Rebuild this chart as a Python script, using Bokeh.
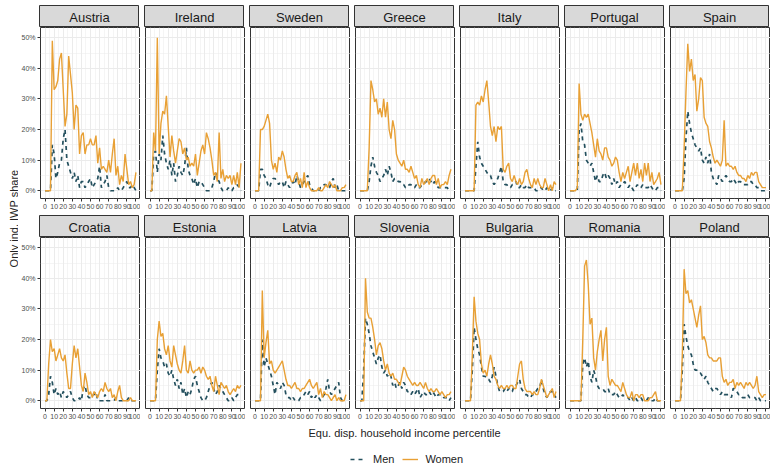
import math
from bokeh.plotting import figure
from bokeh.layouts import row, column
from bokeh.models import (Range1d, FixedTicker, PrintfTickFormatter, Legend, LegendItem,
                          ColumnDataSource)
from bokeh.core.properties import value
from bokeh.embed import file_html
from bokeh.resources import INLINE

# ---------------- data (share in %, percentiles 0..100 step 2) ----------------
percentiles = list(range(0, 101, 2))
countries = ["Austria", "Ireland", "Sweden", "Greece", "Italy", "Portugal", "Spain",
             "Croatia", "Estonia", "Latvia", "Slovenia", "Bulgaria", "Romania", "Poland"]
y_ticks = [0, 10, 20, 30, 40, 50]
x_ticks = [0, 10, 20, 30, 40, 50, 60, 70, 80, 90, 100]
series_names = ["Men", "Women"]

austria_women = [0, 0, 0, 0, 49, 33, 34, 36, 43, 45, 33, 21, 25, 44, 38, 32, 20, 28, 27, 12,
                 18, 19, 12, 15, 15, 17, 15, 15, 18, 9, 14, 7, 8, 7, 6, 10, 6, 12, 17, 5,
                 8, 2, 5, 3, 12, 7, 2, 3, 1, 2, 6]
austria_men = [0, 0, 0, 0, 15, 12, 4, 6, 9, 10, 17, 20, 10, 8, 6, 4, 6, 3, 5, 1,
               3, 3, 1, 2, 3, 4, 1, 2, 3, 4, 8, 1, 2, 3, 5, 1, 0, 0, 0, 0,
               1, 0, 0, 1, 2, 3, 1, 1, 2, 1, 0]
ireland_women = [0, 0, 19, 13, 50, 12, 22, 26, 25, 31, 21, 11, 18, 13, 9, 13, 17, 16, 12, 14,
                 10, 11, 8, 9, 8, 12, 5, 9, 13, 15, 12, 19, 17, 14, 10, 5, 6, 3, 19, 4,
                 7, 3, 5, 4, 5, 2, 5, 2, 6, 1, 9]
ireland_men = [0, 0, 12, 13, 6, 12, 10, 18, 12, 9, 7, 10, 5, 9, 3, 5, 8, 6, 5, 8,
               14, 7, 5, 4, 2, 4, 1, 3, 3, 2, 1, 0, 0, 0, 1, 3, 6, 4, 3, 1,
               0, 0, 0, 1, 0, 0, 1, 1, 2, 1, 0]
sweden_women = [0, 0, 0, 20, 20, 21, 23, 25, 22, 10, 7, 9, 6, 11, 10, 13, 11, 7, 4, 5,
                3, 3, 5, 6, 2, 4, 1, 6, 1, 3, 1, 0, 0, 0, 0, 1, 0, 0, 1, 2,
                1, 3, 2, 1, 2, 0, 0, 0, 1, 1, 2]
sweden_men = [0, 0, 0, 7, 7, 5, 4, 2, 1, 3, 4, 4, 3, 2, 3, 3, 1, 3, 2, 1,
              2, 3, 2, 5, 3, 1, 2, 3, 4, 5, 2, 1, 0, 0, 0, 0, 1, 1, 2, 2,
              1, 1, 3, 4, 1, 2, 0, 0, 0, 0, 0]
greece_women = [0, 0, 0, 0, 0, 14, 36, 33, 29, 30, 25, 27, 24, 30, 24, 29, 20, 17, 23, 20,
                12, 10, 9, 8, 10, 7, 7, 6, 8, 6, 4, 5, 2, 1, 4, 2, 3, 4, 2, 4,
                5, 5, 2, 4, 1, 2, 2, 3, 2, 5, 7]
greece_men = [0, 0, 0, 0, 0, 3, 8, 11, 8, 6, 5, 3, 4, 5, 7, 5, 8, 6, 3, 4,
              4, 3, 3, 2, 2, 1, 1, 2, 2, 1, 1, 2, 1, 1, 2, 2, 3, 3, 4, 3,
              2, 3, 2, 1, 1, 1, 1, 1, 1, 0, 0]
italy_women = [0, 0, 0, 0, 0, 0, 28, 29, 28, 31, 29, 33, 36, 29, 21, 18, 21, 16, 21, 20,
               21, 7, 6, 8, 9, 4, 3, 5, 3, 2, 4, 2, 3, 6, 7, 4, 2, 1, 4, 2,
               4, 2, 1, 1, 4, 2, 0, 2, 0, 3, 2]
italy_men = [0, 0, 0, 0, 0, 0, 8, 16, 11, 9, 8, 7, 6, 5, 5, 3, 2, 3, 4, 6,
             8, 3, 2, 2, 1, 1, 2, 2, 3, 1, 1, 2, 1, 1, 2, 1, 1, 1, 1, 0,
             0, 1, 1, 0, 0, 1, 0, 0, 1, 0, 0]
portugal_women = [0, 0, 0, 0, 1, 35, 25, 23, 25, 24, 25, 22, 19, 15, 11, 17, 13, 12, 10, 14,
                  14, 11, 10, 8, 9, 11, 10, 6, 3, 6, 4, 6, 8, 3, 6, 9, 5, 9, 4, 7,
                  3, 9, 5, 9, 3, 6, 2, 3, 4, 6, 2]
portugal_men = [0, 0, 0, 0, 0, 20, 22, 16, 15, 10, 9, 8, 9, 6, 3, 5, 3, 3, 5, 6,
                4, 5, 4, 2, 4, 2, 3, 1, 2, 2, 3, 2, 1, 2, 1, 0, 1, 2, 1, 1,
                2, 1, 1, 1, 2, 1, 0, 0, 1, 1, 0]
spain_women = [0, 0, 0, 0, 0, 14, 32, 48, 39, 43, 36, 38, 26, 30, 37, 36, 24, 22, 21, 16,
               14, 11, 9, 10, 9, 8, 10, 23, 8, 9, 8, 8, 7, 8, 6, 5, 5, 4, 4, 3,
               5, 4, 6, 5, 6, 6, 3, 2, 1, 1, 1]
spain_men = [0, 0, 0, 0, 0, 4, 17, 26, 22, 19, 17, 15, 14, 13, 14, 10, 9, 11, 9, 12,
             6, 4, 3, 2, 5, 4, 3, 4, 5, 4, 3, 3, 4, 3, 2, 3, 3, 2, 2, 2,
             2, 3, 3, 2, 2, 1, 1, 0, 0, 0, 0]
croatia_women = [0, 0, 12, 20, 16, 17, 13, 15, 17, 14, 13, 15, 9, 4, 4, 12, 18, 14, 17, 11,
                 5, 3, 9, 6, 2, 3, 1, 3, 2, 1, 3, 4, 3, 6, 4, 3, 4, 1, 2, 0,
                 3, 5, 1, 0, 0, 0, 0, 1, 0, 0, 0]
croatia_men = [0, 0, 2, 8, 6, 2, 4, 2, 3, 1, 3, 2, 1, 2, 3, 1, 0, 0, 0, 1,
               0, 4, 5, 2, 1, 1, 2, 2, 3, 0, 0, 0, 0, 2, 0, 0, 0, 0, 0, 1,
               0, 0, 0, 0, 0, 0, 1, 0, 0, 0, 0]
estonia_women = [0, 0, 0, 0, 20, 26, 21, 22, 17, 15, 18, 13, 11, 18, 15, 12, 10, 9, 13, 18,
                 10, 9, 13, 10, 9, 10, 10, 11, 9, 11, 10, 8, 7, 8, 5, 3, 8, 5, 2, 6,
                 5, 4, 5, 3, 2, 3, 4, 3, 5, 4, 5]
estonia_men = [0, 0, 0, 0, 10, 17, 14, 13, 11, 12, 9, 8, 10, 7, 5, 7, 4, 6, 2, 4,
               1, 3, 2, 4, 7, 8, 5, 3, 1, 0, 0, 1, 3, 5, 6, 4, 2, 3, 5, 4,
               3, 2, 1, 0, 0, 1, 0, 1, 2, 2, 2]
latvia_women = [0, 0, 0, 0, 36, 14, 19, 23, 12, 13, 10, 9, 10, 11, 12, 13, 10, 7, 5, 5,
                4, 5, 6, 4, 4, 3, 4, 4, 5, 6, 7, 5, 4, 5, 6, 2, 4, 1, 3, 2,
                2, 1, 0, 1, 2, 0, 1, 0, 0, 0, 2]
latvia_men = [0, 0, 0, 0, 20, 11, 14, 12, 10, 8, 5, 2, 6, 5, 4, 6, 5, 2, 1, 1,
              0, 1, 0, 0, 0, 1, 1, 2, 3, 2, 3, 1, 2, 1, 2, 1, 0, 1, 2, 4,
              7, 3, 2, 3, 4, 5, 6, 1, 0, 0, 0]
slovenia_women = [0, 0, 0, 40, 29, 27, 27, 24, 20, 15, 18, 19, 17, 13, 10, 12, 9, 8, 9, 7,
                  7, 6, 5, 8, 11, 10, 8, 7, 6, 5, 6, 5, 5, 6, 5, 4, 6, 4, 3, 4,
                  3, 3, 4, 3, 2, 3, 2, 1, 2, 2, 3]
slovenia_men = [0, 0, 10, 27, 25, 22, 18, 16, 14, 12, 14, 15, 11, 9, 10, 8, 9, 8, 5, 6,
                4, 5, 6, 4, 6, 5, 3, 3, 2, 3, 2, 3, 4, 1, 2, 3, 2, 2, 3, 2,
                3, 2, 1, 2, 2, 2, 1, 1, 1, 0, 1]
bulgaria_women = [0, 0, 0, 0, 15, 34, 26, 22, 20, 12, 9, 10, 8, 12, 15, 12, 8, 7, 5, 4,
                  5, 4, 4, 5, 4, 5, 5, 4, 4, 8, 12, 13, 7, 4, 3, 3, 3, 2, 3, 2,
                  2, 4, 7, 5, 3, 1, 2, 3, 4, 1, 3]
bulgaria_men = [0, 0, 0, 0, 10, 24, 20, 17, 15, 11, 8, 8, 7, 7, 6, 8, 11, 8, 5, 3,
                3, 3, 4, 3, 4, 3, 3, 5, 5, 6, 7, 4, 3, 2, 2, 1, 1, 2, 2, 3,
                4, 4, 7, 4, 2, 1, 2, 3, 3, 2, 1]
romania_women = [0, 0, 0, 0, 0, 0, 0, 20, 44, 46, 38, 25, 27, 14, 10, 16, 20, 23, 13, 20,
                 24, 8, 5, 7, 6, 5, 5, 4, 3, 6, 4, 2, 1, 1, 3, 0, 2, 2, 1, 2,
                 2, 0, 0, 0, 1, 1, 2, 3, 0, 0, 0]
romania_men = [0, 0, 0, 0, 0, 0, 0, 12, 14, 11, 13, 8, 6, 10, 8, 5, 4, 4, 4, 3,
               3, 4, 2, 2, 2, 3, 2, 1, 1, 2, 1, 1, 1, 0, 1, 0, 1, 0, 0, 1,
               0, 0, 0, 1, 0, 0, 0, 1, 0, 0, 0]
poland_women = [0, 0, 0, 0, 15, 43, 35, 36, 32, 33, 30, 27, 24, 28, 31, 20, 21, 19, 15, 14,
                14, 13, 13, 13, 14, 14, 8, 6, 7, 5, 6, 6, 7, 4, 6, 5, 6, 5, 4, 6,
                5, 6, 5, 4, 5, 8, 3, 2, 1, 2, 2]
poland_men = [0, 0, 0, 0, 10, 25, 21, 18, 16, 15, 12, 10, 10, 9, 9, 8, 7, 8, 6, 5,
              4, 3, 4, 4, 3, 2, 3, 2, 2, 2, 2, 1, 4, 4, 3, 2, 2, 1, 1, 1,
              2, 1, 1, 1, 1, 0, 1, 0, 0, 0, 0]

men = {"Austria": austria_men, "Ireland": ireland_men, "Sweden": sweden_men,
       "Greece": greece_men, "Italy": italy_men, "Portugal": portugal_men,
       "Spain": spain_men, "Croatia": croatia_men, "Estonia": estonia_men,
       "Latvia": latvia_men, "Slovenia": slovenia_men, "Bulgaria": bulgaria_men,
       "Romania": romania_men, "Poland": poland_men}
women = {"Austria": austria_women, "Ireland": ireland_women, "Sweden": sweden_women,
         "Greece": greece_women, "Italy": italy_women, "Portugal": portugal_women,
         "Spain": spain_women, "Croatia": croatia_women, "Estonia": estonia_women,
         "Latvia": latvia_women, "Slovenia": slovenia_women, "Bulgaria": bulgaria_women,
         "Romania": romania_women, "Poland": poland_women}

# ---------------- style ----------------
FONT = "Liberation Sans"
TEAL = "#24505e"
ORANGE = "#e8a035"
GRID = "#ebebeb"
BORDER = "#333333"
TICK_TXT = "#4d4d4d"

FRAME_W, GAP, YAX, YLAB_W = 100, 5, 21, 18
TOP_PAD = 5
STRIP_H, FRAME_H, XAX_H = 22, 171, 17
NCOL = 7

major_y = FixedTicker(ticks=y_ticks, minor_ticks=[5, 15, 25, 35, 45])
major_x = FixedTicker(ticks=x_ticks, minor_ticks=[5, 15, 25, 35, 45, 55, 65, 75, 85, 95])


def strip_fig(name, col, top):
    s = figure(frame_width=FRAME_W, frame_height=STRIP_H,
               x_range=Range1d(0, 1), y_range=Range1d(0, 1),
               x_axis_location=None, y_axis_location=None,
               min_border_left=YAX if col == 0 else GAP, min_border_right=0,
               min_border_top=top, min_border_bottom=0,
               background_fill_color="#d9d9d9", border_fill_color="white",
               outline_line_color=BORDER, outline_line_width=1,
               toolbar_location=None, output_backend="svg")
    s.grid.visible = False
    s.text(x=[0.5], y=[0.45], text=[name], text_align="center", text_baseline="middle",
           text_font=value(FONT), text_font_size="13px", text_color="#1a1a1a")
    return s


def panel_fig(name, col):
    first = col == 0
    p = figure(frame_width=FRAME_W, frame_height=FRAME_H,
               x_range=Range1d(-5, 105), y_range=Range1d(-2.54, 53.34),
               y_axis_location="left" if first else None,
               min_border_left=YAX if first else GAP, min_border_right=0,
               min_border_top=0, min_border_bottom=XAX_H,
               background_fill_color="white", border_fill_color="white",
               outline_line_color=BORDER, outline_line_width=1,
               toolbar_location=None, output_backend="svg")
    xa = p.xaxis[0]
    xa.ticker = major_x
    xa.major_label_text_font = FONT
    xa.major_label_text_font_size = "7px"
    xa.major_label_text_color = TICK_TXT
    xa.axis_line_color = None
    xa.major_tick_line_color = BORDER
    xa.major_tick_out = 3
    xa.major_tick_in = 0
    xa.minor_tick_line_color = None
    xa.major_label_standoff = 1
    if first:
        ya = p.yaxis[0]
        ya.ticker = major_y
        ya.formatter = PrintfTickFormatter(format="%d%%")
        ya.major_label_text_font = FONT
        ya.major_label_text_font_size = "7px"
        ya.major_label_text_color = TICK_TXT
        ya.axis_line_color = None
        ya.major_tick_line_color = BORDER
        ya.major_tick_out = 3
        ya.major_tick_in = 0
        ya.minor_tick_line_color = None
        ya.major_label_standoff = 1
    p.xgrid.ticker = major_x
    p.ygrid.ticker = major_y
    for g in (p.xgrid, p.ygrid):
        g.grid_line_color = GRID
        g.grid_line_width = 1
        g.minor_grid_line_color = GRID
        g.minor_grid_line_width = 0.5
    src = ColumnDataSource(dict(pct=percentiles, men=men[name], women=women[name]))
    p.line("pct", "men", source=src, line_color=TEAL, line_width=1.7, line_dash="4 4")
    p.line("pct", "women", source=src, line_color=ORANGE, line_width=1.4)
    return p


rows = []
for r in range(2):
    names = countries[r * NCOL:(r + 1) * NCOL]
    rows.append(row([strip_fig(n, c, TOP_PAD if r == 0 else 0) for c, n in enumerate(names)], spacing=0))
    rows.append(row([panel_fig(n, c) for c, n in enumerate(names)], spacing=0))
grid_col = column(rows, spacing=0)

total_h = TOP_PAD + 2 * (STRIP_H + FRAME_H + XAX_H)
yl = figure(width=YLAB_W, height=total_h, x_range=Range1d(0, YLAB_W), y_range=Range1d(0, total_h),
            x_axis_location=None, y_axis_location=None, min_border=0,
            outline_line_color=None, toolbar_location=None, output_backend="svg")
yl.grid.visible = False
yl.text(x=[13], y=[total_h - 218], text=["Only ind. IWP share"], angle=math.pi / 2,
        text_align="center", text_baseline="middle", text_font=value(FONT),
        text_font_size="11px", text_color="#222222")

total_w = YLAB_W + YAX + NCOL * FRAME_W + (NCOL - 1) * GAP
BOT_H = 465 - total_h
bf = figure(width=total_w, height=BOT_H, x_range=Range1d(0, total_w), y_range=Range1d(0, BOT_H),
            x_axis_location=None, y_axis_location=None, min_border=0,
            outline_line_color=None, toolbar_location=None, output_backend="svg")
bf.grid.visible = False
center_x = YLAB_W + YAX + (NCOL * FRAME_W + (NCOL - 1) * GAP) / 2
bf.text(x=[center_x], y=[BOT_H - 7], text=["Equ. disp. household income percentile"],
        text_align="center", text_baseline="middle", text_font=value(FONT),
        text_font_size="11px", text_color="#222222")
rm = bf.line(x=[-100, -90], y=[-100, -100], line_color=TEAL, line_width=1.7, line_dash="4 4")
rw = bf.line(x=[-100, -90], y=[-100, -100], line_color=ORANGE, line_width=1.4)
leg = Legend(items=[LegendItem(label=series_names[0], renderers=[rm]),
                    LegendItem(label=series_names[1], renderers=[rw])],
             orientation="horizontal", location=(350, 0), margin=0, padding=0,
             spacing=8, label_standoff=7, glyph_width=16, glyph_height=12,
             label_text_font=FONT, label_text_font_size="11px", label_text_color="#222222",
             border_line_color=None, background_fill_alpha=0)
bf.add_layout(leg, "center")

layout = column(row(yl, grid_col, spacing=0), bf, spacing=0)

open("out.html", "w").write(file_html(layout, INLINE))
